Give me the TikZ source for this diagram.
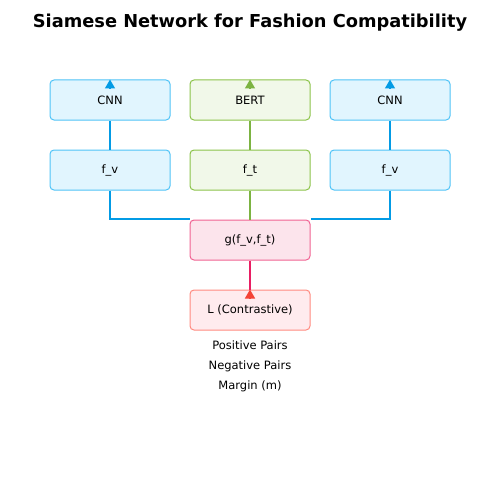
\documentclass[tikz,border=0pt]{standalone}
\usepackage{fontspec}
\setmainfont{DejaVu Sans}
\usetikzlibrary{positioning,arrows.meta}

\definecolor{cnnfill}{HTML}{E1F5FE}
\definecolor{cnndraw}{HTML}{4FC3F7}
\definecolor{cnnline}{HTML}{039BE5}
\definecolor{bertfill}{HTML}{F1F8E9}
\definecolor{bertdraw}{HTML}{8BC34A}
\definecolor{bertline}{HTML}{7CB342}
\definecolor{gfill}{HTML}{FCE4EC}
\definecolor{gdraw}{HTML}{F06292}
\definecolor{gline}{HTML}{E91E63}
\definecolor{lossfill}{HTML}{FFEBEE}
\definecolor{lossdraw}{HTML}{FF8A80}
\definecolor{lossline}{HTML}{F44336}

\begin{document}
\begin{tikzpicture}[x=1pt, y=-1pt, node distance=70pt]

    % Styles
    \tikzstyle{box} = [rectangle, rounded corners=4pt, minimum width=120pt, minimum height=40pt, inner sep=0pt, text centered, line width=1pt, font=\fontsize{11.5}{13}\selectfont]
    \tikzstyle{visual} = [box, draw=cnndraw, fill=cnnfill]
    \tikzstyle{textual} = [box, draw=bertdraw, fill=bertfill]
    \tikzstyle{joint} = [box, draw=gdraw, fill=gfill]
    \tikzstyle{loss} = [box, draw=lossdraw, fill=lossfill]
    \tikzstyle{link} = [line width=1.6pt]
    \tikzstyle{arrow} = [line width=1.5pt, -{Triangle[width=10pt, length=9pt]}]

    \useasboundingbox (0,0) rectangle (500,500);

    % Titre
    \node (title) at (250,23) {\fontsize{17.8}{20}\selectfont\bfseries Siamese Network for Fashion Compatibility};

    % Boites
    \node (bert) [textual] at (250,100) {BERT};
    \node (cnnl) [visual, left of=bert, node distance=140pt] {CNN};
    \node (cnnr) [visual, right of=bert, node distance=140pt] {CNN};
    \node (ft) [textual, below of=bert] {f\_t};
    \node (fvl) [visual, below of=cnnl] {f\_v};
    \node (fvr) [visual, below of=cnnr] {f\_v};
    \node (g) [joint, below of=ft] {g(f\_v,f\_t)};
    \node (loss) [loss, below of=g] {L (Contrastive)};

    % Liaisons
    \draw [link, cnnline] (fvl) -- (cnnl);
    \draw [link, cnnline] (fvr) -- (cnnr);
    \draw [link, bertline] (ft) -- (bert);
    \draw [arrow, cnnline] ([yshift=-9pt]cnnl.north) -- (cnnl.north);
    \draw [arrow, cnnline] ([yshift=-9pt]cnnr.north) -- (cnnr.north);
    \draw [arrow, bertline] ([yshift=-9pt]bert.north) -- (bert.north);
    \draw [link, cnnline] (fvl.south) |- ([yshift=0.6pt]g.north west);
    \draw [link, cnnline] (fvr.south) |- ([yshift=0.6pt]g.north east);
    \draw [link, bertline] (ft) -- (g);
    \draw [link, gline] (g) -- (loss);
    \draw [arrow, lossline] ([yshift=-9pt]loss.north) -- (loss.north);

    % Annotations
    \node (pairs) [align=center, below of=loss, node distance=56pt, font=\fontsize{11.5}{20}\selectfont] {Positive Pairs\\ Negative Pairs\\ Margin (m)};

\end{tikzpicture}
\end{document}
